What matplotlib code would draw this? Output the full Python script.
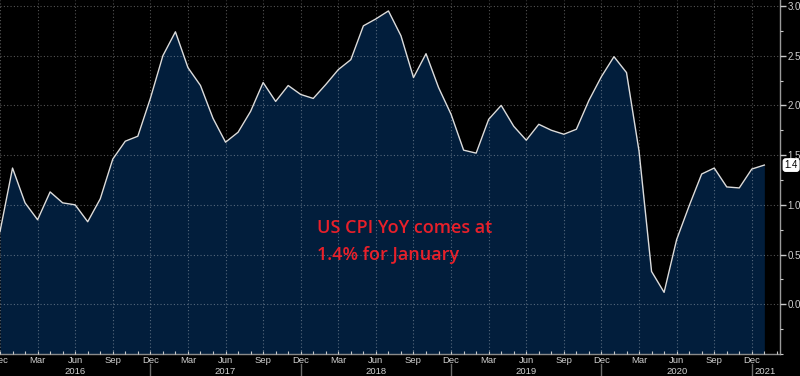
import matplotlib
matplotlib.use("Agg")
import matplotlib.pyplot as plt
from matplotlib.ticker import MultipleLocator, FixedLocator
import matplotlib.transforms as mtransforms

# Monthly US CPI YoY (%) from Dec 2015 to Jan 2021
cpi_2015 = [0.73]
cpi_2016 = [1.37, 1.02, 0.85, 1.13, 1.02, 1.00, 0.83, 1.06, 1.46, 1.64, 1.69, 2.07]
cpi_2017 = [2.50, 2.74, 2.38, 2.20, 1.87, 1.63, 1.73, 1.94, 2.23, 2.04, 2.20, 2.11]
cpi_2018 = [2.07, 2.21, 2.36, 2.46, 2.80, 2.87, 2.95, 2.70, 2.28, 2.52, 2.18, 1.91]
cpi_2019 = [1.55, 1.52, 1.86, 2.00, 1.79, 1.65, 1.81, 1.75, 1.71, 1.76, 2.05, 2.29]
cpi_2020 = [2.49, 2.33, 1.54, 0.33, 0.12, 0.65, 0.99, 1.31, 1.37, 1.18, 1.17, 1.36]
cpi_2021 = [1.40]
values = cpi_2015 + cpi_2016 + cpi_2017 + cpi_2018 + cpi_2019 + cpi_2020 + cpi_2021

month_labels = ["Dec", "Mar", "Jun", "Sep"] * 5 + ["Dec"]
year_labels = ["2016", "2017", "2018", "2019", "2020", "2021"]
year_label_pos = [6, 18, 30, 42, 54, 61.1]
year_sep_pos = [12, 24, 36, 48, 60]
last_label = "1.4"
annotation = ["US CPI YoY comes at", "1.4% for January"]

x = list(range(len(values)))
ymin, ymax = -0.5, 3.06

fig = plt.figure(figsize=(8, 3.76), dpi=100, facecolor="black")
ax = fig.add_axes([0.0, 22 / 376, 780 / 800, 354 / 376])
ax.set_facecolor("black")

ax.fill_between(x, values, ymin, color="#021e3c", lw=0, zorder=1)
ax.plot(x, values, color="#dcdcdc", lw=1.0, zorder=3)

ax.set_xlim(0, 62.25)
ax.set_ylim(ymin, ymax)

# y axis on right
ax.yaxis.tick_right()
ax.yaxis.set_major_locator(FixedLocator([0.0, 0.5, 1.0, 1.5, 2.0, 2.5, 3.0]))
ax.yaxis.set_minor_locator(MultipleLocator(0.25))
ax.set_yticklabels(["0.0", "0.5", "1.0", "1.5", "2.0", "2.5", "3.0"])
ax.tick_params(axis="y", which="major", colors="#c8c8c8", labelsize=7, length=4,
               width=1, pad=1.5, labelcolor="#d0d0d0")
ax.tick_params(axis="y", which="minor", colors="#c8c8c8", length=2.5, width=0.8)
for lab in ax.get_yticklabels():
    lab.set_family("Liberation Sans")

# x axis
q_pos = list(range(0, 61, 3))
ax.set_xticks(q_pos)
ax.set_xticklabels(month_labels, fontsize=6.8, color="#d0d0d0", family="Liberation Sans")
ax.xaxis.set_minor_locator(MultipleLocator(1))
ax.tick_params(axis="x", which="both", direction="in", colors="#c8c8c8", length=2.5,
               width=0.8, pad=1.5)
ax.tick_params(axis="x", which="major", labelcolor="#d0d0d0")

for s in ["left", "top"]:
    ax.spines[s].set_visible(False)
ax.spines["right"].set_color("#9a9a9a")
ax.spines["right"].set_linewidth(1.0)
ax.spines["bottom"].set_color("#8a8a8a")
ax.spines["bottom"].set_linewidth(1.0)

ax.grid(True, which="major", color="white", alpha=0.33, linestyle=(0, (1, 2)), lw=0.8)
ax.set_axisbelow(False)

trans = mtransforms.blended_transform_factory(ax.transData, ax.transAxes)
for lab, p in zip(year_labels, year_label_pos):
    ax.text(p, -17 / 354, lab, transform=trans, ha="center", va="center",
            fontsize=6.8, color="#d0d0d0", family="Liberation Sans", clip_on=False)
for p in year_sep_pos:
    ax.plot([p, p], [-10 / 354, -22 / 354], transform=trans, color="#6a6a6a",
            lw=1.0, clip_on=False)

# last value label
ax.annotate(last_label, xy=(1.0, values[-1]), xycoords=("axes fraction", "data"),
            xytext=(3.2, 0), textcoords="offset points", ha="left", va="center",
            fontsize=7, color="black", family="Liberation Sans",
            bbox=dict(boxstyle="round,pad=0.12,rounding_size=0.25", fc="white", ec="white"),
            annotation_clip=False)

# red annotation
ax.text(316.7 / 780, (354 - 228) / 354, annotation[0], transform=ax.transAxes,
        ha="left", va="center", fontsize=13, color="#e8202a", family="Open Sans",
        fontweight="semibold")
ax.text(316.7 / 780, (354 - 255) / 354, annotation[1], transform=ax.transAxes,
        ha="left", va="center", fontsize=13, color="#e8202a", family="Open Sans",
        fontweight="semibold")

fig.savefig("out.png", dpi=100, facecolor="black")
